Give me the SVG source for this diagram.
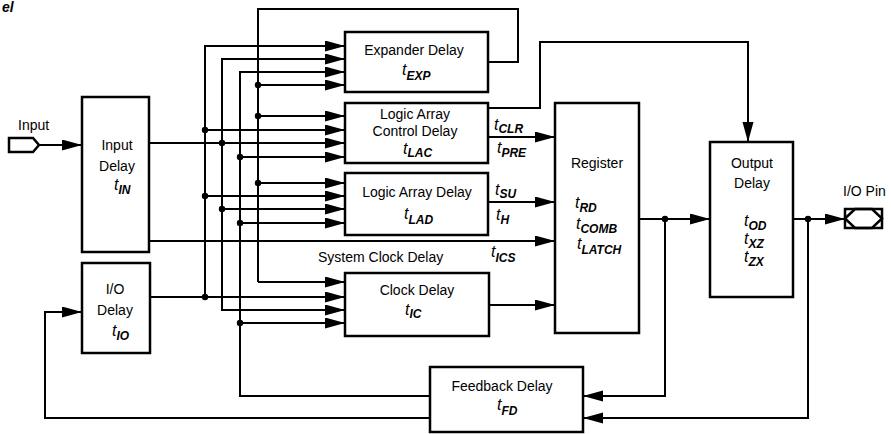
<svg xmlns="http://www.w3.org/2000/svg" width="891" height="434" viewBox="0 0 891 434">
<defs>
<marker id="ar" markerUnits="userSpaceOnUse" markerWidth="22" markerHeight="12" refX="20" refY="5.5" orient="auto">
<path d="M0,0 L20,5.5 L0,11 z" fill="#000"/>
</marker>
<style>
.box{fill:#fff;stroke:#000;stroke-width:2.5}
.ln{fill:none;stroke:#000;stroke-width:2}
.a{marker-end:url(#ar)}
.dot{fill:#000}
text{font-family:"Liberation Sans",Arial,sans-serif;font-size:14px;fill:#000}
.c{text-anchor:middle}
.t{font-style:italic;font-size:16px}
.s{font-style:italic;font-size:12px;font-weight:bold}
</style>
</defs>
<rect width="891" height="434" fill="#fff"/>
<text x="2" y="12" style="font-weight:bold;font-style:italic;font-size:14px">el</text>

<g id="connectors">
<!-- input -->
<path class="ln a" d="M39,145 H82"/>
<!-- bus A x=205 -->
<path class="ln a" d="M205,297 V46 H345"/>
<path class="ln a" d="M205,130 H345"/>
<path class="ln a" d="M205,196 H345"/>
<path class="ln a" d="M150,297 H345"/>
<!-- bus B x=222 -->
<path class="ln a" d="M345,310 H222 V59 H345"/>
<path class="ln a" d="M149,143 H345"/>
<path class="ln a" d="M222,209 H345"/>
<path class="ln a" d="M222,310 H345"/>
<!-- bus C x=240 -->
<path class="ln a" d="M430,396 H240 V72 H345"/>
<path class="ln a" d="M240,157 H345"/>
<path class="ln a" d="M240,223 H345"/>
<path class="ln a" d="M240,323 H345"/>
<!-- bus D x=258 -->
<path class="ln" d="M488,62 H518 V9 H258 V282"/>
<path class="ln a" d="M258,282 H345"/>
<path class="ln a" d="M258,85 H345"/>
<path class="ln a" d="M258,116 H345"/>
<path class="ln a" d="M258,183 H345"/>
<!-- system clock -->
<path class="ln a" d="M149,241 H555"/>
<!-- LAC -->
<path class="ln a" d="M488,137 H555"/>
<path class="ln a" d="M488,108 H540 V42 H748 V142"/>
<!-- LAD -->
<path class="ln a" d="M488,202 H555"/>
<!-- clock -->
<path class="ln a" d="M489,305 H555"/>
<!-- register out -->
<path class="ln a" d="M639,219 H710"/>
<path class="ln a" d="M665,219 V396 H583"/>
<!-- output out -->
<path class="ln a" d="M793,219 H845"/>
<path class="ln a" d="M808,219 V418 H583"/>
<!-- feedback to I/O -->
<path class="ln a" d="M430,418 H45 V312 H82"/>
<!-- dots -->
<circle class="dot" cx="205" cy="130" r="3.2"/>
<circle class="dot" cx="205" cy="196" r="3.2"/>
<circle class="dot" cx="205" cy="297" r="3.2"/>
<circle class="dot" cx="222" cy="143" r="3.2"/>
<circle class="dot" cx="222" cy="209" r="3.2"/>
<circle class="dot" cx="240" cy="157" r="3.2"/>
<circle class="dot" cx="240" cy="223" r="3.2"/>
<circle class="dot" cx="240" cy="323" r="3.2"/>
<circle class="dot" cx="258" cy="85" r="3.2"/>
<circle class="dot" cx="258" cy="116" r="3.2"/>
<circle class="dot" cx="258" cy="183" r="3.2"/>
<circle class="dot" cx="665" cy="219" r="3.2"/>
<circle class="dot" cx="808" cy="219" r="3.2"/>
</g>

<g id="input-pin">
<polygon points="9,138 33,138 39,145 33,152 9,152" fill="#fff" stroke="#000" stroke-width="2.5"/>
<text x="18" y="130">Input</text>
</g>

<g id="input-delay">
<rect class="box" x="82" y="97" width="67" height="155"/>
<text class="c" x="117" y="150">Input</text>
<text class="c" x="117" y="171">Delay</text>
<text x="114" y="190"><tspan class="t">t</tspan><tspan class="s" dy="4">IN</tspan></text>
</g>

<g id="io-delay">
<rect class="box" x="82" y="263" width="68" height="90"/>
<text class="c" x="115" y="294">I/O</text>
<text class="c" x="115" y="315">Delay</text>
<text x="112" y="336"><tspan class="t">t</tspan><tspan class="s" dy="4">IO</tspan></text>
</g>

<g id="expander-delay">
<rect class="box" x="345" y="32" width="143" height="60"/>
<text class="c" x="414" y="55">Expander Delay</text>
<text x="402" y="75"><tspan class="t">t</tspan><tspan class="s" dy="5">EXP</tspan></text>
</g>

<g id="lac-delay">
<rect class="box" x="345" y="103" width="143" height="60"/>
<text class="c" x="415" y="119">Logic Array</text>
<text class="c" x="415" y="136">Control Delay</text>
<text x="403" y="154"><tspan class="t">t</tspan><tspan class="s" dy="3">LAC</tspan></text>
</g>

<g id="lad-delay">
<rect class="box" x="345" y="173" width="143" height="62"/>
<text class="c" x="417" y="197">Logic Array Delay</text>
<text x="404" y="219"><tspan class="t">t</tspan><tspan class="s" dy="5">LAD</tspan></text>
</g>

<g id="clock-delay">
<rect class="box" x="345" y="273" width="144" height="63"/>
<text class="c" x="417" y="295">Clock Delay</text>
<text x="405" y="315"><tspan class="t">t</tspan><tspan class="s" dy="3">IC</tspan></text>
</g>

<g id="labels">
<text x="494" y="130"><tspan class="t">t</tspan><tspan class="s" dy="3">CLR</tspan></text>
<text x="497" y="153"><tspan class="t">t</tspan><tspan class="s" dy="4">PRE</tspan></text>
<text x="495" y="195"><tspan class="t">t</tspan><tspan class="s" dy="3">SU</tspan></text>
<text x="496" y="220"><tspan class="t">t</tspan><tspan class="s" dy="4">H</tspan></text>
<text x="491" y="257"><tspan class="t">t</tspan><tspan class="s" dy="5">ICS</tspan></text>
<text x="318" y="262">System Clock Delay</text>
</g>

<g id="register">
<rect class="box" x="555" y="103" width="84" height="230"/>
<text class="c" x="597" y="168">Register</text>
<text x="575" y="208"><tspan class="t">t</tspan><tspan class="s" dy="4">RD</tspan></text>
<text x="576" y="229"><tspan class="t">t</tspan><tspan class="s" dy="4">COMB</tspan></text>
<text x="577" y="249"><tspan class="t">t</tspan><tspan class="s" dy="5">LATCH</tspan></text>
</g>

<g id="output-delay">
<rect class="box" x="710" y="142" width="83" height="155"/>
<text class="c" x="752" y="168">Output</text>
<text class="c" x="752" y="188">Delay</text>
<text x="744" y="226"><tspan class="t">t</tspan><tspan class="s" dy="4">OD</tspan></text>
<text x="744" y="244"><tspan class="t">t</tspan><tspan class="s" dy="4">XZ</tspan></text>
<text x="744" y="262"><tspan class="t">t</tspan><tspan class="s" dy="4">ZX</tspan></text>
</g>

<g id="io-pin">
<rect x="845" y="209" width="37" height="19" fill="#fff" stroke="#000" stroke-width="2.5"/>
<polygon points="845,218.5 855,209 872,209 882,218.5 872,228 855,228" fill="none" stroke="#000" stroke-width="2.5"/>
<text x="843" y="196">I/O Pin</text>
</g>

<g id="feedback-delay">
<rect class="box" x="430" y="367" width="153" height="65"/>
<text class="c" x="502" y="391">Feedback Delay</text>
<text x="497" y="410"><tspan class="t">t</tspan><tspan class="s" dy="5">FD</tspan></text>
</g>
</svg>
